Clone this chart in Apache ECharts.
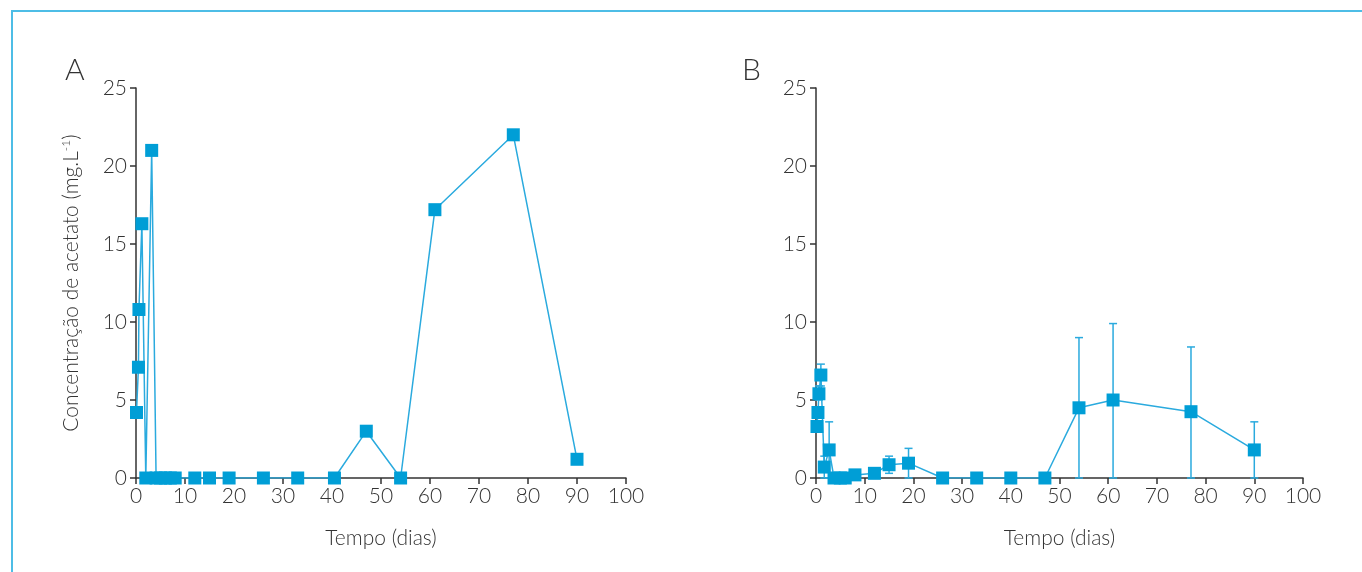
<!DOCTYPE html>
<html>
<head>
<meta charset="utf-8">
<script src="https://cdn.jsdelivr.net/npm/echarts@6/dist/echarts.min.js"></script>
<style>
  html, body { margin: 0; padding: 0; background: #fff; }
  #frame { position: absolute; left: 11px; top: 10px; width: 1400px; height: 600px;
           border-top: 2px solid #4dbde6; border-left: 2px solid #4dbde6; }
  #chart { position: absolute; left: 0; top: 0; width: 1362px; height: 572px; }
</style>
</head>
<body>
<div id="frame"></div>
<div id="chart"></div>
<script>
// Panel A: acetate concentration (mg/L) vs time (days)
const daysA   = [0.1, 0.5, 0.6, 1.2, 2.0, 3.2, 4.1, 5, 6, 7, 8, 12, 15, 19, 26, 33, 40.5, 47, 54, 61, 77, 90];
const valuesA = [4.2, 7.1, 10.8, 16.3, 0, 21.0, 0, 0, 0, 0, 0, 0, 0, 0, 0, 0, 0, 3.0, 0, 17.2, 22.0, 1.2];

// Panel B: mean with error bars
const daysB    = [0.2, 0.4, 0.6, 1.0, 1.7, 2.7, 3.7, 5, 6, 8, 12, 15, 19, 26, 33, 40, 47, 54, 61, 77, 90];
const valuesB  = [3.3, 4.2, 5.4, 6.6, 0.7, 1.8, 0, 0, 0, 0.2, 0.3, 0.85, 0.95, 0, 0, 0, 0, 4.5, 5.0, 4.25, 1.8];
const errLowB  = [null, null, 5.0, 5.9, 0, 0, null, null, null, null, null, 0.3, 0, null, null, null, null, 0, 0, 0, 0];
const errHighB = [null, null, 5.9, 7.3, 1.4, 3.6, null, null, null, null, null, 1.4, 1.9, null, null, null, null, 9.0, 9.9, 8.4, 3.6];

const xMin = 0, xMax = 100, xStep = 10;
const yMin = 0, yMax = 25, yStep = 5;
const panelLabels = ['A', 'B'];
const xName = 'Tempo (dias)';
const yName = 'Concentração de acetato (mg.L{sup|-1})';

const FONT = 'Lato';
const TXT = '#333';
const MARK = '#009ed6';
const LINE = '#2aaade';
const FS = 21;

function xAxis(idx) {
  return {
    type: 'value', gridIndex: idx, min: xMin, max: xMax, interval: xStep,
    name: xName, nameLocation: 'middle', nameGap: 50,
    nameTextStyle: { fontFamily: FONT, fontSize: FS, color: TXT, fontWeight: 300 },
    axisLine: { show: true, lineStyle: { color: '#333', width: 1.5 } },
    axisTick: { show: true, length: 6, lineStyle: { color: '#333', width: 1.5 } },
    axisLabel: { fontFamily: FONT, fontSize: FS, color: TXT, margin: 8, fontWeight: 300 },
    splitLine: { show: false }
  };
}
function yAxis(idx, withName) {
  const a = {
    type: 'value', gridIndex: idx, min: yMin, max: yMax, interval: yStep,
    axisLine: { show: true, lineStyle: { color: '#333', width: 1.5 } },
    axisTick: { show: true, length: 6, lineStyle: { color: '#333', width: 1.5 } },
    axisLabel: { fontFamily: FONT, fontSize: FS, color: TXT, margin: 9, fontWeight: 300 },
    splitLine: { show: false }
  };
  if (withName) {
    a.name = yName;
    a.nameLocation = 'middle';
    a.nameGap = 54;
    a.nameTextStyle = {
      fontFamily: FONT, fontSize: FS, color: TXT, fontWeight: 300,
      rich: { sup: { fontFamily: FONT, fontSize: 12, color: TXT, padding: [0, 0, 10, 0] } }
    };
  }
  return a;
}

const pairsA = daysA.map((d, i) => [d, valuesA[i]]);
const pairsB = daysB.map((d, i) => [d, valuesB[i]]);
const errB = daysB.map((d, i) => [d, errLowB[i], errHighB[i]]).filter(e => e[1] !== null);

const chart = echarts.init(document.getElementById('chart'));
chart.setOption({
  backgroundColor: 'transparent',
  animation: false,
  title: [
    { text: panelLabels[0], left: 60, top: 50, textStyle: { fontFamily: FONT, fontSize: 30, color: TXT, fontWeight: 300 } },
    { text: panelLabels[1], left: 737, top: 50, textStyle: { fontFamily: FONT, fontSize: 30, color: TXT, fontWeight: 300 } }
  ],
  grid: [
    { left: 136, top: 88, width: 490, height: 390 },
    { left: 816, top: 88, width: 487, height: 390 }
  ],
  xAxis: [xAxis(0), xAxis(1)],
  yAxis: [yAxis(0, true), yAxis(1, false)],
  series: [
    {
      type: 'line', xAxisIndex: 0, yAxisIndex: 0, data: pairsA,
      symbol: 'rect', symbolSize: 13,
      lineStyle: { color: LINE, width: 1.5 },
      itemStyle: { color: MARK }
    },
    {
      type: 'custom', xAxisIndex: 1, yAxisIndex: 1, data: errB, z: 1,
      renderItem: function (params, api) {
        const x = api.value(0);
        const lo = api.coord([x, api.value(1)]);
        const hi = api.coord([x, api.value(2)]);
        const cw = 4;
        const st = { stroke: LINE, lineWidth: 1.5 };
        return {
          type: 'group',
          children: [
            { type: 'line', shape: { x1: lo[0], y1: lo[1], x2: hi[0], y2: hi[1] }, style: st },
            { type: 'line', shape: { x1: lo[0] - cw, y1: lo[1], x2: lo[0] + cw, y2: lo[1] }, style: st },
            { type: 'line', shape: { x1: hi[0] - cw, y1: hi[1], x2: hi[0] + cw, y2: hi[1] }, style: st }
          ]
        };
      }
    },
    {
      type: 'line', xAxisIndex: 1, yAxisIndex: 1, data: pairsB, z: 3,
      symbol: 'rect', symbolSize: 13,
      lineStyle: { color: LINE, width: 1.5 },
      itemStyle: { color: MARK }
    }
  ]
});
</script>
</body>
</html>
